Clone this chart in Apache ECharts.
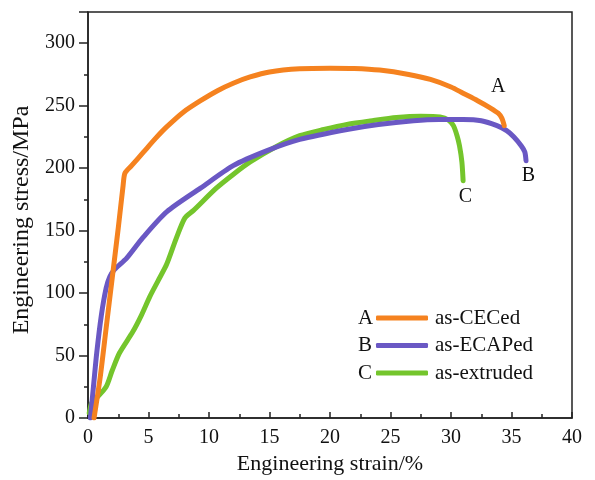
<!DOCTYPE html>
<html>
<head>
<meta charset="utf-8">
<script src="https://cdn.jsdelivr.net/npm/echarts@6/dist/echarts.min.js"></script>
<style>
  html, body { margin: 0; padding: 0; background: #fff; }
  #chart { width: 595px; height: 480px; }
</style>
</head>
<body>
<div id="chart"></div>
<script>
// strain (%) / stress (MPa)
const curveA = [
  [0.5, 0], [1.0, 32], [1.5, 72], [2.0, 112], [2.5, 152], [2.9, 186], [3.05, 196],
  [3.6, 202], [4.6, 213], [5.6, 224], [6.5, 233], [7.9, 245], [9.3, 254],
  [10.7, 262], [12.0, 268], [13.4, 273], [15.0, 277], [17.5, 279.5], [20.0, 280],
  [22.0, 279.8], [24.1, 278.5], [26.5, 275], [28.3, 271], [30.0, 265], [31.0, 260],
  [32.2, 254], [33.2, 248.5], [33.9, 244], [34.2, 240], [34.4, 234]
];
const curveB = [
  [0.2, 0], [0.45, 25], [0.72, 52], [1.1, 82], [1.5, 104], [1.8, 113], [2.2, 119],
  [3.2, 128], [4.5, 144], [6.5, 165], [9.3, 184], [12.0, 202], [14.8, 214],
  [17.5, 223], [21.4, 231], [24.0, 235], [26.9, 238], [29.0, 239], [31.0, 239],
  [32.5, 238], [33.8, 234], [34.6, 230], [35.2, 225], [35.8, 218], [36.1, 213], [36.2, 206]
];
const curveC = [
  [0.1, 4], [0.3, 12], [0.7, 16], [1.5, 25], [2.0, 38], [2.6, 52], [3.7, 69],
  [4.4, 82], [5.1, 97], [5.8, 110], [6.5, 123], [7.3, 144], [8.0, 160], [8.7, 166],
  [10.6, 184], [12.0, 195], [13.4, 205], [15.5, 217], [17.5, 226], [19.5, 231],
  [21.4, 235], [23.5, 238], [25.5, 240.5], [27.5, 241.5], [29.1, 241], [29.8, 238.5],
  [30.2, 234], [30.5, 226], [30.7, 218], [30.9, 205], [31.0, 190]
];

const seriesNames = ['as-CECed', 'as-ECAPed', 'as-extruded'];
const seriesKeys = ['A', 'B', 'C'];
const seriesColors = ['#f5821f', '#6a58c4', '#74c52c'];
// label anchor positions (data coords) for the A / B / C tags at curve ends
const tagPos = [[33.9, 265], [36.4, 194], [31.2, 177]];

const xTicks = [0, 5, 10, 15, 20, 25, 30, 35, 40];
const yTicks = [0, 50, 100, 150, 200, 250, 300];

const FONT = '"Liberation Serif", "Times New Roman", serif';
const chart = echarts.init(document.getElementById('chart'));

const curves = [curveA, curveB, curveC];

chart.setOption({
  backgroundColor: '#fff',
  animation: false,
  grid: {
    left: 88, right: 23, top: 12, bottom: 58,
    show: true, borderColor: '#222', borderWidth: 1.5, backgroundColor: 'transparent'
  },
  legend: {
    data: seriesNames,
    orient: 'vertical',
    left: 376, top: 307.5, padding: 0,
    itemWidth: 52, itemHeight: 5, itemGap: 6.5,
    icon: 'roundRect',
    textStyle: { fontFamily: FONT, fontSize: 21, color: '#111', padding: [0, 0, 0, 2] }
  },
  xAxis: {
    type: 'value',
    min: 0, max: 40, interval: 5,
    name: 'Engineering strain/%',
    nameLocation: 'middle', nameGap: 35,
    nameTextStyle: { fontFamily: FONT, fontSize: 22, color: '#111' },
    axisLine: { lineStyle: { color: '#222', width: 1.5 } },
    axisTick: { inside: true, length: 6, lineStyle: { color: '#222', width: 1.5 } },
    minorTick: { show: true, splitNumber: 2, length: 4, lineStyle: { color: '#222', width: 1.5 } },
    axisLabel: {
      fontFamily: FONT, fontSize: 20, color: '#111', margin: 10,
      formatter: v => xTicks.includes(v) ? String(v) : ''
    },
    splitLine: { show: false }
  },
  yAxis: {
    type: 'value',
    min: 0, max: 325, interval: 50,
    name: 'Engineering stress/MPa',
    nameLocation: 'middle', nameGap: 40,
    nameTextStyle: { fontFamily: FONT, fontSize: 24, color: '#111', padding: [0, 10, 0, 0] },
    axisLine: { lineStyle: { color: '#222', width: 1.5 } },
    axisTick: { inside: false, length: 9, lineStyle: { color: '#222', width: 1.5 } },
    minorTick: { show: true, splitNumber: 2, length: 4, lineStyle: { color: '#222', width: 1.5 } },
    axisLabel: {
      fontFamily: FONT, fontSize: 20, color: '#111', margin: 13,
      showMaxLabel: false,
      formatter: v => yTicks.includes(v) ? String(v) : ''
    },
    splitLine: { show: false }
  },
  graphic: seriesKeys.map((k, i) => ({
    type: 'text',
    left: 358, top: 307.5 + i * 27.5,
    style: { text: k, font: '21px ' + FONT, fill: '#111' }
  })),
  series: curves.map((d, i) => ({
    name: seriesNames[i],
    type: 'line',
    data: d,
    showSymbol: false,
    smooth: 0.25,
    z: 3 - i,
    lineStyle: { color: seriesColors[i], width: 5, cap: 'round', join: 'round' },
    itemStyle: { color: seriesColors[i] },
    markPoint: {
      symbol: 'circle', symbolSize: 0,
      label: {
        show: true, position: 'inside', formatter: seriesKeys[i],
        fontFamily: FONT, fontSize: 20, color: '#111'
      },
      data: [{ coord: tagPos[i] }]
    }
  }))
});
</script>
</body>
</html>
